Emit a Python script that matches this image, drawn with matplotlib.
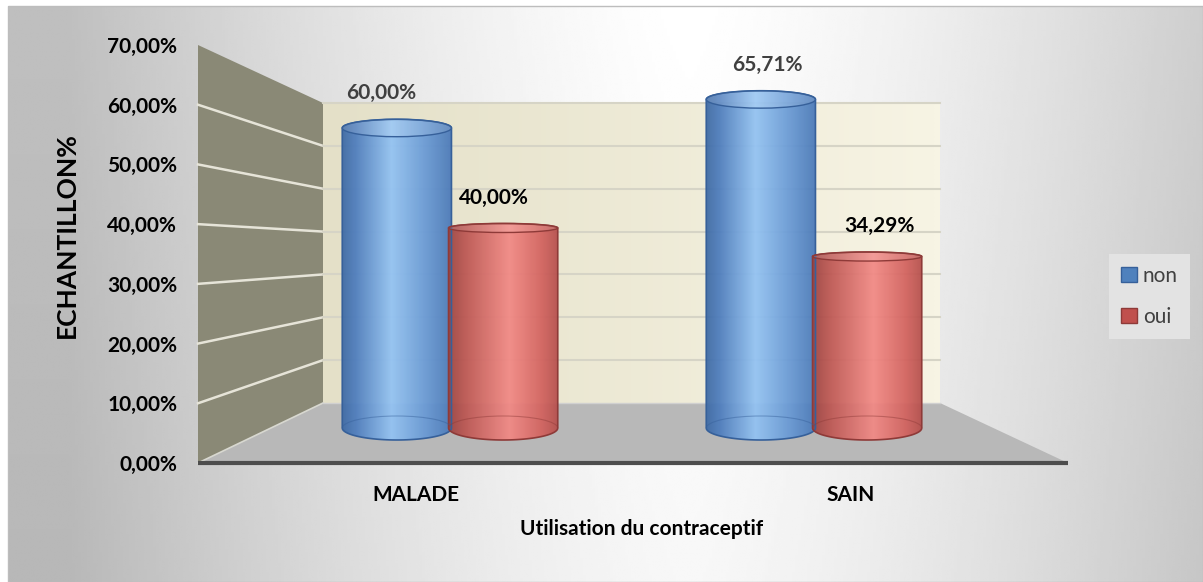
import numpy as np
import matplotlib.pyplot as plt
from matplotlib.patches import Polygon, PathPatch, Ellipse, Arc, Patch, Rectangle
from matplotlib.path import Path
from matplotlib.colors import LinearSegmentedColormap

plt.rcParams['font.family'] = ['Lato', 'DejaVu Sans']

# données
categories = ["MALADE", "SAIN"]
series_names = ["non", "oui"]
non = [60.00, 65.71]
oui = [40.00, 34.29]
y_ticks = [0, 10, 20, 30, 40, 50, 60, 70]
x_title = "Utilisation du contraceptif"
y_title = "ECHANTILLON%"

W, H = 1203, 582
fig = plt.figure(figsize=(W / 100, H / 100), dpi=100)


def px_box(x0, y0, x1, y1):
    # boite en pixels (origine en haut a gauche) -> fraction de figure
    return [x0 / W, 1 - y1 / H, (x1 - x0) / W, (y1 - y0) / H]


def pct(v):
    return f"{v:.2f}".replace(".", ",") + "%"


# fond degrade + murs "3D" (decor, en pixels)
bg = fig.add_axes([0, 0, 1, 1])
gx, gy = np.meshgrid(np.linspace(0, 1, 400), np.linspace(0, 1, 200))
shade = 1 - 0.25 * np.clip(np.abs(gx - 0.57) / 0.52, 0, 1) ** 1.4 - 0.03 * gy
bg.imshow(shade, cmap="gray", vmin=0, vmax=1, extent=(8, W, H, 6),
          aspect="auto", interpolation="bilinear", zorder=0)
bg.add_patch(Rectangle((8, 6), W - 8, H - 6, fill=False, ec="#bdbdbd", lw=1, zorder=1))

FX0, FX1, FY0, FY1 = 198, 1068, 463, 45   # plan avant : 0% en bas, 70% en haut
BX0, BX1, BY0, BY1 = 323, 940, 403, 103   # mur du fond

bg.add_patch(Polygon([(FX0, FY1), (BX0, BY1), (BX0, BY0), (FX0, FY0)],
                     fc="#8a8976", ec="none", zorder=2))
wall_cm = LinearSegmentedColormap.from_list("wall", ["#e4e0c8", "#f7f4e4"])
bg.imshow(np.linspace(0, 1, 100)[None, :], cmap=wall_cm, extent=(BX0, BX1, BY0, BY1),
          aspect="auto", interpolation="bilinear", zorder=2)
bg.add_patch(Polygon([(FX0, FY0), (BX0, BY0), (BX1, BY0), (FX1, FY0)],
                     fc="#b8b8b8", ec="none", zorder=2))

for v in y_ticks[1:]:
    yf = FY0 - (FY0 - FY1) * v / y_ticks[-1]
    yb = BY0 - (BY0 - BY1) * v / y_ticks[-1]
    if v < y_ticks[-1]:
        bg.plot([FX0, BX0], [yf, yb], color="#e6e4d8", lw=1.8, zorder=3)
    bg.plot([BX0, BX1], [yb, yb], color="#d6d4c6", lw=1.5, zorder=3)
bg.plot([FX0, BX0], [FY0, BY0], color="#d8d8d0", lw=1.2, zorder=3)
bg.plot([BX0, BX1], [BY0, BY0], color="#d0d0d0", lw=1.0, zorder=3)
bg.plot([FX0, FX1], [FY0, FY0], color="#4d4d4d", lw=3, zorder=3, solid_capstyle="butt")
bg.set_xlim(0, W)
bg.set_ylim(H, 0)
bg.axis("off")

# axe des graduations (plan avant)
ax_t = fig.add_axes(px_box(FX0, FY1, FX1, FY0))
ax_t.set_xlim(-0.5, 1.5)
ax_t.set_ylim(y_ticks[0], y_ticks[-1])
ax_t.set_yticks(y_ticks)
ax_t.set_yticklabels([pct(v) for v in y_ticks], fontsize=15, fontweight="bold")
ax_t.set_xticks(range(len(categories)))
ax_t.set_xticklabels(categories, fontsize=15, fontweight="bold")
ax_t.tick_params(axis="y", length=0, pad=15)
ax_t.tick_params(axis="x", length=0, pad=16)
ax_t.patch.set_visible(False)
for s in ax_t.spines.values():
    s.set_visible(False)

fig.text(66.5 / W, 1 - 235 / H, y_title, rotation=90, ha="center", va="center",
         fontsize=19, fontweight="bold")
fig.text(642 / W, 1 - 529 / H, x_title, ha="center", va="center",
         fontsize=15, fontweight="bold")

# cylindres
PX_PER_UNIT = 5.0
BASE_PX = 428
ax_b = fig.add_axes(px_box(268, BASE_PX - 70 * PX_PER_UNIT, 996, BASE_PX + 5 * PX_PER_UNIT))
ax_b.set_xlim(-0.5, 1.5)
ax_b.set_ylim(-5, 70)
ax_b.axis("off")

blue_cm = LinearSegmentedColormap.from_list(
    "b", [(0, "#3e6aa5"), (0.12, "#4e7dbd"), (0.45, "#93c3f3"), (0.75, "#6a9bd6"), (1, "#4a79b8")])
red_cm = LinearSegmentedColormap.from_list(
    "r", [(0, "#9e4542"), (0.15, "#bd5753"), (0.55, "#f28985"), (0.85, "#d2625e"), (1, "#b44f4c")])

width = 0.30
offset = 0.146
series = [
    (non, -offset, blue_cm, "#36609a", 8.7, "#404040"),
    (oui, offset, red_cm, "#8e3a38", 4.5, "#000000"),
]

for vals, off, cm, edge, top_px, lab_col in series:
    for i, v in enumerate(vals):
        xc = i + off
        a = width / 2
        bb = 12 / PX_PER_UNIT
        bt = top_px / PX_PER_UNIT
        t1 = np.linspace(np.pi, 2 * np.pi, 60)
        t2 = np.linspace(0, np.pi, 60)
        pts = np.vstack([
            np.column_stack([xc + a * np.cos(t1), bb * np.sin(t1)]),
            np.column_stack([xc + a * np.cos(t2), v + bt * np.sin(t2)]),
        ])
        body = PathPatch(Path(np.vstack([pts, pts[:1]]), closed=True),
                         fc="none", ec=edge, lw=1.2, zorder=4)
        ax_b.add_patch(body)
        img = ax_b.imshow(np.linspace(0, 1, 200)[None, :], cmap=cm,
                          extent=(xc - a, xc + a, -bb, v + bt), aspect="auto",
                          interpolation="bilinear", alpha=0.94, zorder=3)
        img.set_clip_path(body)
        ax_b.add_patch(Ellipse((xc, v), 2 * a, 2 * bt, fc=(1, 1, 1, 0.12), ec=edge, lw=1.0, zorder=5))
        ax_b.add_patch(Arc((xc, 0), 2 * a, 2 * bb, theta1=0, theta2=180, ec=edge, lw=0.8,
                           alpha=0.45, zorder=5))
        # petit decalage de perspective pour l'etiquette
        xpix = ax_b.transData.transform((xc, v))[0]
        dx = (xpix - 654) * 0.06 * 0.72
        dy = (top_px + 26) * 0.72
        ax_b.annotate(pct(v), (xc, v), xytext=(dx, dy), textcoords="offset points",
                      ha="center", va="center", fontsize=15, fontweight="bold",
                      color=lab_col, zorder=6)

ax_b.set_xlim(-0.5, 1.5)
ax_b.set_ylim(-5, 70)

handles = [Patch(fc="#4f81bd", ec="#36609a"), Patch(fc="#c0504d", ec="#8e3a38")]
fig.legend(handles, series_names, loc="center", bbox_to_anchor=(1149.5 / W, 1 - 296.5 / H),
           frameon=True, facecolor="#e3e3e3", edgecolor="none", framealpha=1, fancybox=False,
           fontsize=15, handlelength=0.75, handleheight=0.75, handletextpad=0.3,
           labelspacing=1.0, borderpad=0.6, labelcolor="#404040")

fig.savefig("out.png", dpi=100)
